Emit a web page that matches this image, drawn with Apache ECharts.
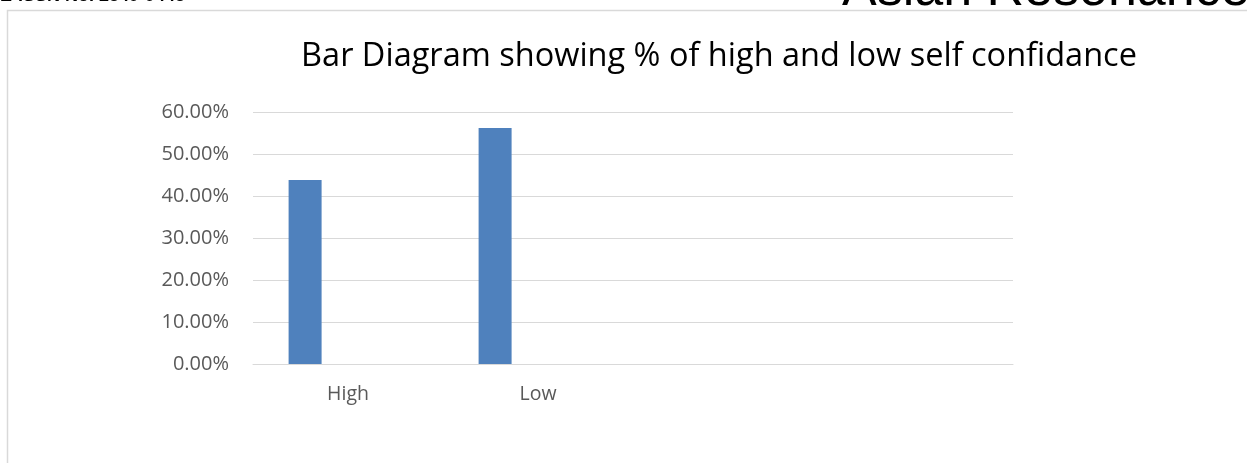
<!DOCTYPE html>
<html>
<head>
<meta charset="utf-8">
<script src="https://cdn.jsdelivr.net/npm/echarts@6/dist/echarts.min.js"></script>
<style>
  html, body { margin: 0; padding: 0; background: #fff; }
  #main { width: 1247px; height: 463px; }
</style>
</head>
<body>
<div id="main"></div>
<script>
// categories and values (percent)
var categories = ['High', 'Low', '', ''];
var selfConfidence = [43.8, 56.2, null, null];
// Excel keeps two more (empty) series in each cluster
var emptyA = [null, null, null, null];
var emptyB = [null, null, null, null];
var yTicks = { min: 0, max: 60, interval: 10 };

var myChart = echarts.init(document.getElementById('main'));

var labelFont = '"Open Sans", "Noto Sans", sans-serif';

var option = {
    animation: false,
    backgroundColor: '#fff',
    title: {
        text: 'Bar Diagram showing % of high and low self confidance',
        left: 714,
        textAlign: 'center',
        top: 35,
        textStyle: {
            fontFamily: labelFont,
            fontSize: 32.5,
            fontWeight: 'normal',
            color: '#000'
        }
    },
    grid: {
        left: 253,
        right: 234,
        top: 112,
        bottom: 99
    },
    xAxis: {
        type: 'category',
        data: categories,
        axisTick: { show: false },
        axisLine: { lineStyle: { color: '#d9d9d9', width: 1 } },
        axisLabel: {
            margin: 20,
            fontFamily: labelFont,
            fontSize: 19.5,
            color: '#595959'
        }
    },
    yAxis: {
        type: 'value',
        min: yTicks.min,
        max: yTicks.max,
        interval: yTicks.interval,
        axisLine: { show: false },
        axisTick: { show: false },
        splitLine: { lineStyle: { color: '#d9d9d9', width: 1 } },
        axisLabel: {
            margin: 24,
            fontFamily: labelFont,
            fontSize: 20,
            color: '#595959',
            formatter: function (v) { return v.toFixed(2) + '%'; }
        }
    },
    series: [{
        name: 'self confidence',
        type: 'bar',
        data: selfConfidence,
        barWidth: 33,
        barGap: '30%',
        itemStyle: { color: '#4f81bd' }
    }, {
        name: 'empty 1',
        type: 'bar',
        data: emptyA,
        barWidth: 33,
        barGap: '30%'
    }, {
        name: 'empty 2',
        type: 'bar',
        data: emptyB,
        barWidth: 33,
        barGap: '30%'
    }],
    graphic: [{
        type: 'rect',
        shape: { x: 7.5, y: 10.5, width: 1400, height: 600 },
        style: { fill: 'none', stroke: '#d9d9d9', lineWidth: 1.5 },
        silent: true
    }, {
        type: 'text',
        x: 0,
        y: 5.5,
        style: {
            text: 'E-ISSN No. 2349-9443',
            font: 'bold 18px "Liberation Sans", sans-serif',
            fill: '#000',
            verticalAlign: 'bottom'
        }
    }, {
        type: 'text',
        x: 842,
        y: 17,
        style: {
            text: 'Asian Resonance',
            font: '52px "Liberation Sans", sans-serif',
            fill: '#000',
            verticalAlign: 'bottom'
        }
    }]
};

myChart.setOption(option);
</script>
</body>
</html>
